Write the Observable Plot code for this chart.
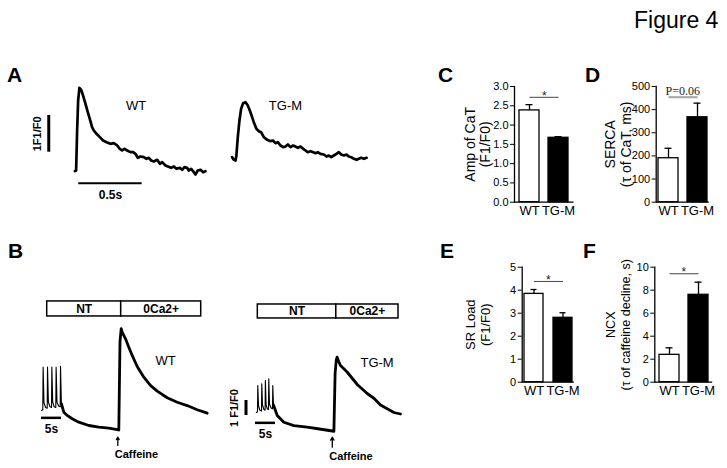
<!DOCTYPE html>
<html>
<head>
<meta charset="utf-8">
<script src="https://cdn.jsdelivr.net/npm/d3@7"></script>
<script src="https://cdn.jsdelivr.net/npm/@observablehq/plot@0.6"></script>
<style>
  body { margin: 0; background: white; }
  #chart { position: relative; width: 727px; height: 468px; background: white; font-family: "Liberation Sans", Arial, sans-serif; overflow: hidden; }
  .lbl { position: absolute; line-height: 1; white-space: nowrap; color: #000; }
</style>
</head>
<body>
<div id="chart"></div>
<script>
// ---------------- DATA ----------------
// Panel A: single Ca transients, [time (ms), F/F0]
const aWT = [[3,1.055],[13,1.074],[21,2.163],[29,2.981],[39,3.326],[53,3.272],[68,3.117],[87,2.890],[105,2.663],[121,2.481],[139,2.254],[153,2.163],[174,2.073],[200,1.982],[226,1.891],[253,1.845],[284,1.800],[310,1.818],[337,1.755],[358,1.664],[376,1.619],[395,1.664],[416,1.619],[442,1.573],[463,1.573],[481,1.528],[500,1.419],[521,1.455],[547,1.437],[568,1.392],[587,1.419],[605,1.346],[626,1.319],[653,1.364],[674,1.255],[692,1.301],[718,1.210],[737,1.183],[763,1.146],[784,1.183],[805,1.119],[831,1.146],[850,1.092],[868,1.164],[889,1.146],[902,1.074],[921,1.119],[942,1.028],[955,0.965],[973,1.074],[995,1.092],[1016,1.028],[1034,1.055]];
const aTG = [[5,1.036],[18,0.964],[32,0.946],[39,1.082],[50,1.581],[63,2.035],[76,2.353],[92,2.508],[110,2.535],[129,2.444],[145,2.308],[163,2.126],[176,1.990],[197,1.808],[216,1.745],[234,1.717],[255,1.581],[282,1.509],[308,1.472],[329,1.490],[347,1.418],[366,1.445],[387,1.354],[408,1.309],[426,1.327],[445,1.381],[466,1.309],[487,1.354],[505,1.327],[524,1.291],[545,1.327],[566,1.263],[584,1.218],[602,1.172],[624,1.200],[645,1.172],[663,1.145],[681,1.172],[702,1.127],[729,1.109],[750,1.054],[768,1.082],[787,1.036],[808,1.082],[829,1.127],[847,1.172],[866,1.109],[887,1.082],[908,1.109],[926,1.054],[945,1.036],[966,0.991],[987,0.964],[1005,0.991],[1023,1.018],[1045,0.991],[1066,1.018]];
const aTimeBar = [{t1: 34, t2: 534, v: 0.728, label: "0.5s"}];      // 0.5 s
const aAmpBar = [{t: -203, v1: 1.572, v2: 2.572, label: "1F1/F0"}]; // 1 F1/F0

// Panel B: caffeine-induced transients, [time (s), ΔF/F0]
const bWTstim = [[-0.3,0.0],[0,0.05],[0.08,2.89],[0.3,0.5],[0.7,0.2],[1.1,0.15],[1.18,2.89],[1.4,0.55],[1.8,0.25],[2.18,0.2],[2.26,2.89],[2.48,0.55],[2.85,0.25],[3.25,0.2],[3.33,2.89],[3.55,0.55],[3.95,0.3],[4.35,0.25],[4.43,2.95],[4.65,0.45]];
const bWTpost = [[4.65,0.45],[5.25,-0.11],[6.1,-0.33],[7.35,-0.55],[9.0,-0.78],[11.5,-1.0],[14.0,-1.11],[16.5,-1.18],[18.6,-1.27],[19.0,-1.3],[19.3,4.6],[19.6,5.45],[19.85,5.22],[20.68,4.78],[21.5,4.22],[22.35,3.67],[23.6,2.93],[25.25,2.22],[26.9,1.67],[28.6,1.29],[31.1,0.85],[33.6,0.55],[36.1,0.33],[38.6,0.05],[41.1,-0.18]];
const bTGstim = [[-0.3,0.0],[0,0.05],[0.07,1.8],[0.25,0.45],[0.6,0.15],[1.0,0.1],[1.07,1.91],[1.25,0.5],[1.6,0.2],[1.9,0.15],[1.97,2.13],[2.15,0.5],[2.45,0.25],[2.75,0.2],[2.82,2.25],[3.0,0.55],[3.4,0.3],[3.75,0.25],[3.82,1.8],[4.0,0.5]];
const bTGpost = [[4.0,0.5],[4.93,-0.2],[6.58,-0.65],[9.08,-0.87],[12.4,-0.98],[15.5,-1.1],[19.1,-1.25],[19.4,2.6],[19.7,3.5],[19.9,3.69],[20.3,3.4],[20.75,3.13],[22.4,2.7],[25.0,1.85],[27.5,1.25],[29.1,0.95],[30.75,0.5],[34.1,0.0],[35.75,-0.1]];
const protocolWT = [{cond: "NT", t1: 1.1, t2: 19.6}, {cond: "0Ca2+", t1: 19.6, t2: 39.6}];
const protocolTG = [{cond: "NT", t1: 0.08, t2: 19.7}, {cond: "0Ca2+", t1: 19.7, t2: 35.25}];
const caffeineWT = 18.75, caffeineTG = 18.7; // s, time of caffeine application

// Panels C–F: bar charts (mean ± SEM)
const groups = ["WT", "TG-M"];
const ampCaT  = [2.38, 1.67], ampCaTerr  = [0.15, 0.03];
const serca   = [190, 367],   sercaErr   = [43, 61];
const srLoad  = [3.84, 2.80], srLoadErr  = [0.19, 0.22];
const ncx     = [2.38, 7.60], ncxErr     = [0.61, 1.10];
const ticksC = [0, 0.5, 1.0, 1.5, 2.0, 2.5, 3.0];
const ticksD = [0, 100, 200, 300, 400, 500];
const ticksE = [0, 1, 2, 3, 4, 5];
const ticksF = [0, 2, 4, 6, 8, 10];

// ---------------- DRAWING ----------------
const W = 727, H = 468;
const chart = document.getElementById("chart");
const FONT = "'Liberation Sans', Arial, sans-serif";

function overlay(opts) {
  const svg = Plot.plot({
    width: W, height: H,
    style: {background: "transparent", position: "absolute", left: "0px", top: "0px", fontFamily: FONT, overflow: "visible"},
    ...opts
  });
  chart.appendChild(svg);
  return svg;
}
function frameMargins(x0, x1, y0, y1) {
  return {marginLeft: x0, marginRight: W - x1, marginTop: y0, marginBottom: H - y1};
}
function label(text, left, baseline, size, extra = "") {
  const d = document.createElement("div");
  d.className = "lbl";
  d.textContent = text;
  d.style.cssText = `left:${left}px;top:${baseline - 0.8465 * size}px;font-size:${size}px;${extra}`;
  chart.appendChild(d);
}

// ---- Panel A ----
overlay({
  ...frameMargins(30, 215, 80, 200),
  x: {domain: [-347, 1113], axis: null},
  y: {domain: [0.256, 3.526], axis: null},
  marks: [
    Plot.line(aWT, {stroke: "black", strokeWidth: 2.7}),
    Plot.ruleX(aAmpBar, {x: "t", y1: "v1", y2: "v2", strokeWidth: 3}),
    Plot.ruleY(aTimeBar, {y: "v", x1: "t1", x2: "t2", strokeWidth: 2}),
    Plot.text(aTimeBar, {x: d => (d.t1 + d.t2) / 2, y: "v", text: "label", dy: 12, fontSize: 12, fontWeight: "bold"}),
    Plot.text(aAmpBar, {x: "t", y: d => (d.v1 + d.v2) / 2, text: "label", dx: -11, rotate: -90, fontSize: 11, fontWeight: "bold"}),
    Plot.text(["WT"], {x: 487, y: 2.845, text: d => d, fontSize: 13})
  ]
});
overlay({
  ...frameMargins(215, 380, 80, 200),
  x: {domain: [-126, 1176], axis: null},
  y: {domain: [-0.144, 3.125], axis: null},
  marks: [
    Plot.line(aTG, {stroke: "black", strokeWidth: 2.7}),
    Plot.text(["TG-M"], {x: 426, y: 2.444, text: d => d, fontSize: 13})
  ]
});

// ---- Panel B ----
function caffeinePanel({x0, x1, tDomain, vDomain, stim, post, protocol, boxV, caffeine, arrowV, name, nameAt, timeBar, ampBar}) {
  const marks = [
    Plot.rect(protocol, {x1: "t1", x2: "t2", y1: boxV[0], y2: boxV[1], fill: "white", stroke: "black", strokeWidth: 1.5}),
    Plot.text(protocol, {x: d => (d.t1 + d.t2) / 2, y: (boxV[0] + boxV[1]) / 2, text: "cond", fontSize: 12, fontWeight: "bold"}),
    Plot.line(stim, {stroke: "black", strokeWidth: 1.1}),
    Plot.line(post, {stroke: "black", strokeWidth: 2.8}),
    Plot.ruleY([timeBar], {y: "v", x1: "t1", x2: "t2", strokeWidth: 2.5}),
    Plot.text([timeBar], {x: d => (d.t1 + d.t2) / 2, y: "v", text: () => "5s", dy: 11, fontSize: 12, fontWeight: "bold"}),
    Plot.arrow([caffeine], {x1: d => d, x2: d => d, y1: arrowV[0], y2: arrowV[1], headLength: 5, strokeWidth: 1.3}),
    Plot.text([caffeine], {x: d => d, y: arrowV[0], text: () => "Caffeine", textAnchor: "start", dx: -3, dy: 9, fontSize: 11, fontWeight: "bold"}),
    Plot.text([name], {x: nameAt[0], y: nameAt[1], text: d => d, fontSize: 13})
  ];
  if (ampBar) {
    marks.push(Plot.ruleX([ampBar], {x: "t", y1: "v1", y2: "v2", strokeWidth: 3}));
    marks.push(Plot.text([ampBar], {x: "t", y: d => (d.v1 + d.v2) / 2, text: () => "1 F1/F0", dx: -12, rotate: -90, fontSize: 11, fontWeight: "bold"}));
  }
  overlay({
    ...frameMargins(x0, x1, 290, 468),
    x: {domain: tDomain, axis: null},
    y: {domain: vDomain, axis: null},
    marks
  });
}
caffeinePanel({
  x0: 30, x1: 215, tDomain: [-3.075, 43.175], vDomain: [-3.867, 8.0],
  stim: bWTstim, post: bWTpost, protocol: protocolWT, boxV: [6.27, 7.27],
  caffeine: caffeineWT, arrowV: [-2.33, -1.78], name: "WT", nameAt: [30.7, 3.33],
  timeBar: {t1: -0.33, t2: 4.67, v: -0.49}
});
caffeinePanel({
  x0: 222, x1: 405, tDomain: [-8.75, 37.0], vDomain: [-3.733, 8.133],
  stim: bTGstim, post: bTGpost, protocol: protocolTG, boxV: [6.27, 7.2],
  caffeine: caffeineTG, arrowV: [-2.31, -1.65], name: "TG-M", nameAt: [29.9, 3.29],
  timeBar: {t1: -0.5, t2: 4.5, v: -0.69},
  ampBar: {t: -2.875, v1: -0.2, v2: 0.8}
});

// ---- Panels C–F ----
function barPanel({x0, x1, y0, y1, domain, ticks, fmt, values, errs, padIn, padOut, ylabel, labelDx, labelSize, sigY, sigText, sigTextY, sigColor, sigWidth, sigFont, sigSize}) {
  const data = groups.map((g, i) => ({g, v: values[i], e: errs[i]}));
  overlay({
    ...frameMargins(x0, x1, y0, y1),
    x: {domain: groups, paddingInner: padIn, paddingOuter: padOut, label: null},
    y: {domain, label: null},
    color: {domain: groups, range: ["white", "black"]},
    marks: [
      Plot.ruleX(data, {x: "g", y1: "v", y2: d => d.v + d.e, strokeWidth: 1.3}),
      Plot.tickY(data, {x: "g", y: d => d.v + d.e, insetLeft: 6.5, insetRight: 6.5, strokeWidth: 1.3}),
      Plot.barY(data, {x: "g", y: "v", fill: "g", stroke: "black", strokeWidth: 1.3}),
      Plot.axisY({ticks, tickFormat: d3.format(fmt), tickSize: 4, tickPadding: 2, fontSize: 11, label: null}),
      Plot.axisX({tickSize: 0, tickPadding: 4, fontSize: 13, label: null}),
      Plot.frame({anchor: "left", strokeWidth: 1.3}),
      Plot.ruleY([0], {strokeWidth: 1.3}),
      Plot.text([ylabel], {text: d => d, frameAnchor: "left", textAnchor: "middle", dx: labelDx, rotate: -90, fontSize: labelSize, lineHeight: 1.12}),
      Plot.link([sigY], {x1: () => "WT", x2: () => "TG-M", y1: d => d, y2: d => d, stroke: sigColor, strokeWidth: sigWidth}),
      Plot.text([sigText], {text: d => d, y: sigTextY, frameAnchor: "middle", fontSize: sigSize, fontFamily: sigFont, fill: "#222"})
    ]
  });
}
barPanel({x0: 514, x1: 573.5, y0: 86, y1: 201.7, domain: [0, 3], ticks: ticksC, fmt: ".1f",
  values: ampCaT, errs: ampCaTerr, padIn: 0.31, padOut: 0.18, ylabel: "Amp of CaT\n(F1/F0)", labelDx: -37, labelSize: 14,
  sigY: 2.72, sigText: "*", sigTextY: 2.76, sigColor: "#444", sigWidth: 1, sigFont: FONT, sigSize: 12});
barPanel({x0: 655.7, x1: 708.8, y0: 86, y1: 201.7, domain: [0, 500], ticks: ticksD, fmt: "d",
  values: serca, errs: sercaErr, padIn: 0.31, padOut: 0.07, ylabel: "SERCA\n(τ of CaT, ms)", labelDx: -38, labelSize: 14,
  sigY: 453.8, sigText: "P=0.06", sigTextY: 482, sigColor: "#aaa", sigWidth: 2.2, sigFont: "'Liberation Serif', 'Times New Roman', serif", sigSize: 12});
barPanel({x0: 521.7, x1: 573.9, y0: 266.7, y1: 381.7, domain: [0, 5], ticks: ticksE, fmt: "d",
  values: srLoad, errs: srLoadErr, padIn: 0.33, padOut: 0.055, ylabel: "SR Load\n(F1/F0)", labelDx: -44.5, labelSize: 13,
  sigY: 4.38, sigText: "*", sigTextY: 4.45, sigColor: "#444", sigWidth: 1, sigFont: FONT, sigSize: 12});
barPanel({x0: 654.3, x1: 712.2, y0: 266.7, y1: 381.7, domain: [0, 10], ticks: ticksF, fmt: "d",
  values: ncx, errs: ncxErr, padIn: 0.32, padOut: 0.135, ylabel: "NCX\n(τ of caffeine decline, s)", labelDx: -36.8, labelSize: 12.6,
  sigY: 9.43, sigText: "*", sigTextY: 9.6, sigColor: "#444", sigWidth: 1, sigFont: FONT, sigSize: 12});

// ---- Titles and panel letters ----
label("Figure 4", 634, 28, 23);
label("A", 7, 82, 21, "font-weight:bold;");
label("B", 8, 258, 21, "font-weight:bold;");
label("C", 438, 82, 21, "font-weight:bold;");
label("D", 585, 82, 21, "font-weight:bold;");
label("E", 440, 258, 21, "font-weight:bold;");
label("F", 583, 258, 21, "font-weight:bold;");
</script>
</body>
</html>
